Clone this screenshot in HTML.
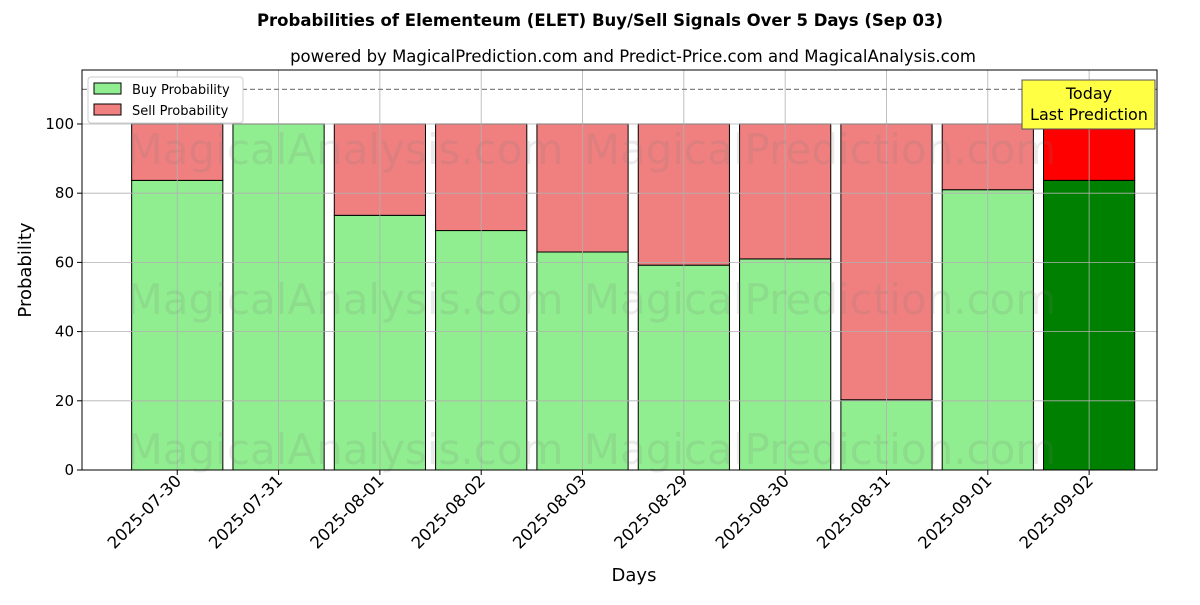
<!DOCTYPE html>
<html><head><meta charset="utf-8"><style>
body{margin:0;background:#fff;font-family:"Liberation Sans","DejaVu Sans",sans-serif;}
</style></head><body>
<svg id="chart" width="1200" height="600" xmlns="http://www.w3.org/2000/svg" font-family="DejaVu Sans, Liberation Sans, sans-serif"></svg>
<script>
const categories=["2025-07-30","2025-07-31","2025-08-01","2025-08-02","2025-08-03","2025-08-29","2025-08-30","2025-08-31","2025-09-01","2025-09-02"];
const buyValues=[83.7,100,73.6,69.2,63,59.2,61,20.3,81,83.7];
const sellValues=buyValues.map(v=>100-v);
const yTicks=[0,20,40,60,80,100];
const L=82,R=1157,T=70,B=470;
const xMin=-0.94,xMax=9.67,yMin=0,yMax=115.6;
const xs=i=>L+(i-xMin)/(xMax-xMin)*(R-L);
const ys=v=>B-(v-yMin)/(yMax-yMin)*(B-T);
const svg=document.getElementById('chart');
const NS="http://www.w3.org/2000/svg";
function el(tag,attrs,parent){const e=document.createElementNS(NS,tag);for(const k in attrs)e.setAttribute(k,attrs[k]);(parent||svg).appendChild(e);return e;}
function txt(s,attrs,name){const e=el('text',attrs);e.textContent=s;return e;}
txt("Probabilities of Elementeum (ELET) Buy/Sell Signals Over 5 Days (Sep 03)",{x:600,y:26,'text-anchor':'middle','font-size':16.5,'font-weight':'bold'},'chart-title');
txt("powered by MagicalPrediction.com and Predict-Price.com and MagicalAnalysis.com",{x:633,y:62,'text-anchor':'middle','font-size':16.5},'chart-subtitle');
// bars
const bw=0.9*(R-L)/(xMax-xMin);
categories.forEach((c,i)=>{
  const last=i===categories.length-1;
  const b=el('rect',{x:xs(i)-bw/2,y:ys(buyValues[i]),width:bw,height:ys(0)-ys(buyValues[i]),fill:last?'#008000':'#90ee90',stroke:'#000','stroke-width':1});
  
  const s=el('rect',{x:xs(i)-bw/2,y:ys(100),width:bw,height:ys(buyValues[i])-ys(100),fill:last?'#ff0000':'#f08080',stroke:'#000','stroke-width':1});
  
});
// grid (over bars)
yTicks.forEach(v=>{const g=el('line',{x1:L,x2:R,y1:ys(v),y2:ys(v),stroke:'#b0b0b0','stroke-width':0.8});});
categories.forEach((c,i)=>{const g=el('line',{x1:xs(i),x2:xs(i),y1:T,y2:B,stroke:'#b0b0b0','stroke-width':0.8});});
// watermarks
[[345,150,'MagicalAnalysis.com'],[820,150,'MagicalPrediction.com'],[345,300,'MagicalAnalysis.com'],[820,300,'MagicalPrediction.com'],[345,450,'MagicalAnalysis.com'],[820,450,'MagicalPrediction.com']].forEach(w=>{
  txt(w[2],{x:w[0],y:w[1]+14,'text-anchor':'middle','font-size':42,fill:'rgba(120,120,120,0.15)'},'watermark');
});
// dashed line
const d=el('line',{x1:L,x2:R,y1:ys(110),y2:ys(110),stroke:'#808080','stroke-width':1.2,'stroke-dasharray':'5,3'});

// axes frame
const f=el('rect',{x:L,y:T,width:R-L,height:B-T,fill:'none',stroke:'#000','stroke-width':1});

// y ticks
yTicks.forEach(v=>{const t=el('line',{x1:L-5,x2:L,y1:ys(v),y2:ys(v),stroke:'#000'});
  txt(String(v),{x:L-8,y:ys(v)+5,'text-anchor':'end','font-size':15},'y-tick-label');});
categories.forEach((c,i)=>{const t=el('line',{x1:xs(i),x2:xs(i),y1:B,y2:B+5,stroke:'#000'});
  txt(c,{x:xs(i)+5,y:B+12,'text-anchor':'end','font-size':16.5,transform:`rotate(-45 ${xs(i)+5} ${B+12})`},'x-tick-label');});
txt("Probability",{x:31,y:270,'text-anchor':'middle','font-size':18,transform:'rotate(-90 31 270)'},'y-axis-title');
txt("Days",{x:634,y:581,'text-anchor':'middle','font-size':18},'x-axis-title');
// legend
const lg=el('g',{});
el('rect',{x:88,y:77,width:155,height:46,fill:'#fff',stroke:'#ccc',rx:3},lg);
el('rect',{x:94,y:83,width:27,height:11,fill:'#90ee90',stroke:'#000'},lg);
el('rect',{x:94,y:104,width:27,height:11,fill:'#f08080',stroke:'#000'},lg);
txt("Buy Probability",{x:132,y:94,'font-size':13},'legend-entry-buy');
txt("Sell Probability",{x:132,y:115,'font-size':13},'legend-entry-sell');
// annotation
const an=el('rect',{x:1022,y:80,width:133,height:49,fill:'#ffff44',stroke:'#555'});
txt("Today",{x:1089,y:99,'text-anchor':'middle','font-size':16},'annotation-today');
txt("Last Prediction",{x:1089,y:120,'text-anchor':'middle','font-size':16},'annotation-last-prediction');
</script>
</body></html>
